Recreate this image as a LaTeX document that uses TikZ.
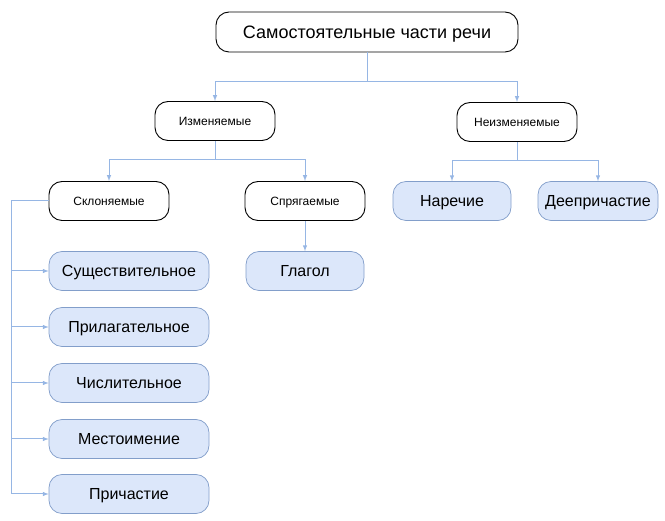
\documentclass[tikz,border=0pt]{standalone}
\usepackage{fontspec}
\setmainfont{Liberation Sans}
\definecolor{linkblue}{RGB}{150,182,228}
\definecolor{leaffill}{RGB}{220,231,250}
\definecolor{leafdraw}{RGB}{130,158,202}
\tikzset{
  part/.style={draw, line width=0.9pt, rounded corners=13pt, minimum height=39pt, inner sep=2pt, text depth=0pt},
  group/.style={part, minimum width=120pt, font=\fontsize{12}{14}\selectfont},
  leaf/.style={part, draw=leafdraw, line width=0.7pt, fill=leaffill, minimum width=118pt, font=\fontsize{16}{19}\selectfont},
  link/.style={draw=linkblue, line width=1pt},
}
\begin{document}
\begin{tikzpicture}[>=latex, x=1pt, y=-1pt]
\useasboundingbox (0,0) rectangle (665,521);
\node[part, minimum width=302pt, minimum height=40pt, font=\fontsize{18}{21}\selectfont] (root) at (367,32) {Самостоятельные части речи};
\node[group] (izm) at (215,121) {Изменяемые};
\node[group] (neizm) at (517,122) {Неизменяемые};
\node[group] (sklon) at (109,201) {Склоняемые};
\node[group] (sprag) at (305,201) {Спрягаемые};
\node[leaf] (narech) at (452,201) {Наречие};
\node[leaf, minimum width=120pt] (deepr) at (598,201) {Деепричастие};
\node[leaf] (glagol) at (305,271) {Глагол};
\node[leaf, minimum width=160pt] (sush) at (129,271) {Существительное};
\node[leaf, minimum width=160pt] (pril) at (129,327) {Прилагательное};
\node[leaf, minimum width=160pt] (chisl) at (129,383) {Числительное};
\node[leaf, minimum width=160pt] (mest) at (129,439) {Местоимение};
\node[leaf, minimum width=160pt] (prich) at (129,494) {Причастие};
\coordinate (rootbus) at (367,82);
\coordinate (izmbus) at (215,160);
\coordinate (neizmbus) at (517,161);
\coordinate (sklonbus) at (11,201);
\draw[link] (root) -- (rootbus);
\draw[link, ->] (rootbus) -| (izm);
\draw[link, ->] (rootbus) -| (neizm);
\draw[link] (izm) -- (izmbus);
\draw[link, ->] (izmbus) -| (sklon);
\draw[link, ->] (izmbus) -| (sprag);
\draw[link] (neizm) -- (neizmbus);
\draw[link, ->] (neizmbus) -| (narech);
\draw[link, ->] (neizmbus) -| (deepr);
\draw[link, ->] (sprag) -- (glagol);
\draw[link] (sklon) -- (sklonbus);
\foreach \n in {sush, pril, chisl, mest, prich}
  \draw[link, ->] (sklonbus) |- (\n);
\end{tikzpicture}
\end{document}
